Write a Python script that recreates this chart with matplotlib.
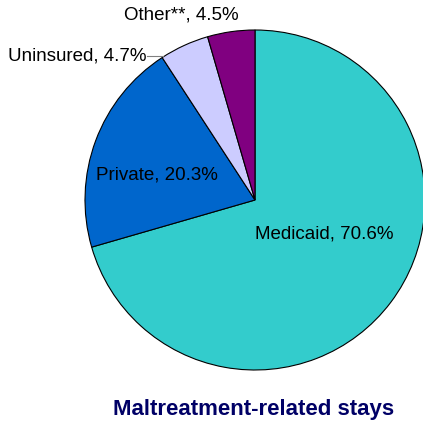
import numpy as np
import matplotlib.pyplot as plt

# Datos
categorias = ['Medicaid', 'Private', 'Uninsured', 'Other**']
porcentajes = [70.6, 20.3, 4.7, 4.5]
colores = ['#33CCCC', '#0066CC', '#CCCCFF', '#800080']
titulo = 'Maltreatment-related stays'

plt.rcParams['font.family'] = ['Liberation Sans', 'DejaVu Sans']

W, H = 423, 427
fig = plt.figure(figsize=(W/100, H/100), dpi=100)

# centro del pastel en pixeles y radio
cx, cy, r = 255, 201, 170
ax = fig.add_axes([(cx - r)/W, (H - cy - r)/H, 2*r/W, 2*r/H])
ax.pie(porcentajes, colors=colores, startangle=90, counterclock=False,
       radius=1, wedgeprops=dict(edgecolor='black', linewidth=0.8))
ax.set_xlim(-1, 1)
ax.set_ylim(-1, 1)
ax.set_aspect('auto')
ax.axis('off')

def px(x, y):
    return ((x - cx)/r, (cy - y)/r)

etiquetas = [f'{c}, {p}%' for c, p in zip(categorias, porcentajes)]
fs = 13.5

ax.text(*px(324, 234), etiquetas[0], ha='center', va='center', fontsize=fs)
ax.text(*px(157, 175), etiquetas[1], ha='center', va='center', fontsize=fs)
ax.text(*px(146, 56), etiquetas[2], ha='right', va='center', fontsize=fs)
ax.text(*px(181, 15), etiquetas[3], ha='center', va='center', fontsize=fs)

# linea guia de Uninsured
x0, y0 = px(147, 57)
x1, y1 = px(163, 57)
ax.plot([x0, x1], [y0, y1], color='gray', lw=0.8, clip_on=False)

fig.text(254/W, 1 - 410/H, titulo, ha='center', va='center',
         fontsize=16, fontweight='bold', color='#000066')

fig.savefig('out.png', dpi=100)
